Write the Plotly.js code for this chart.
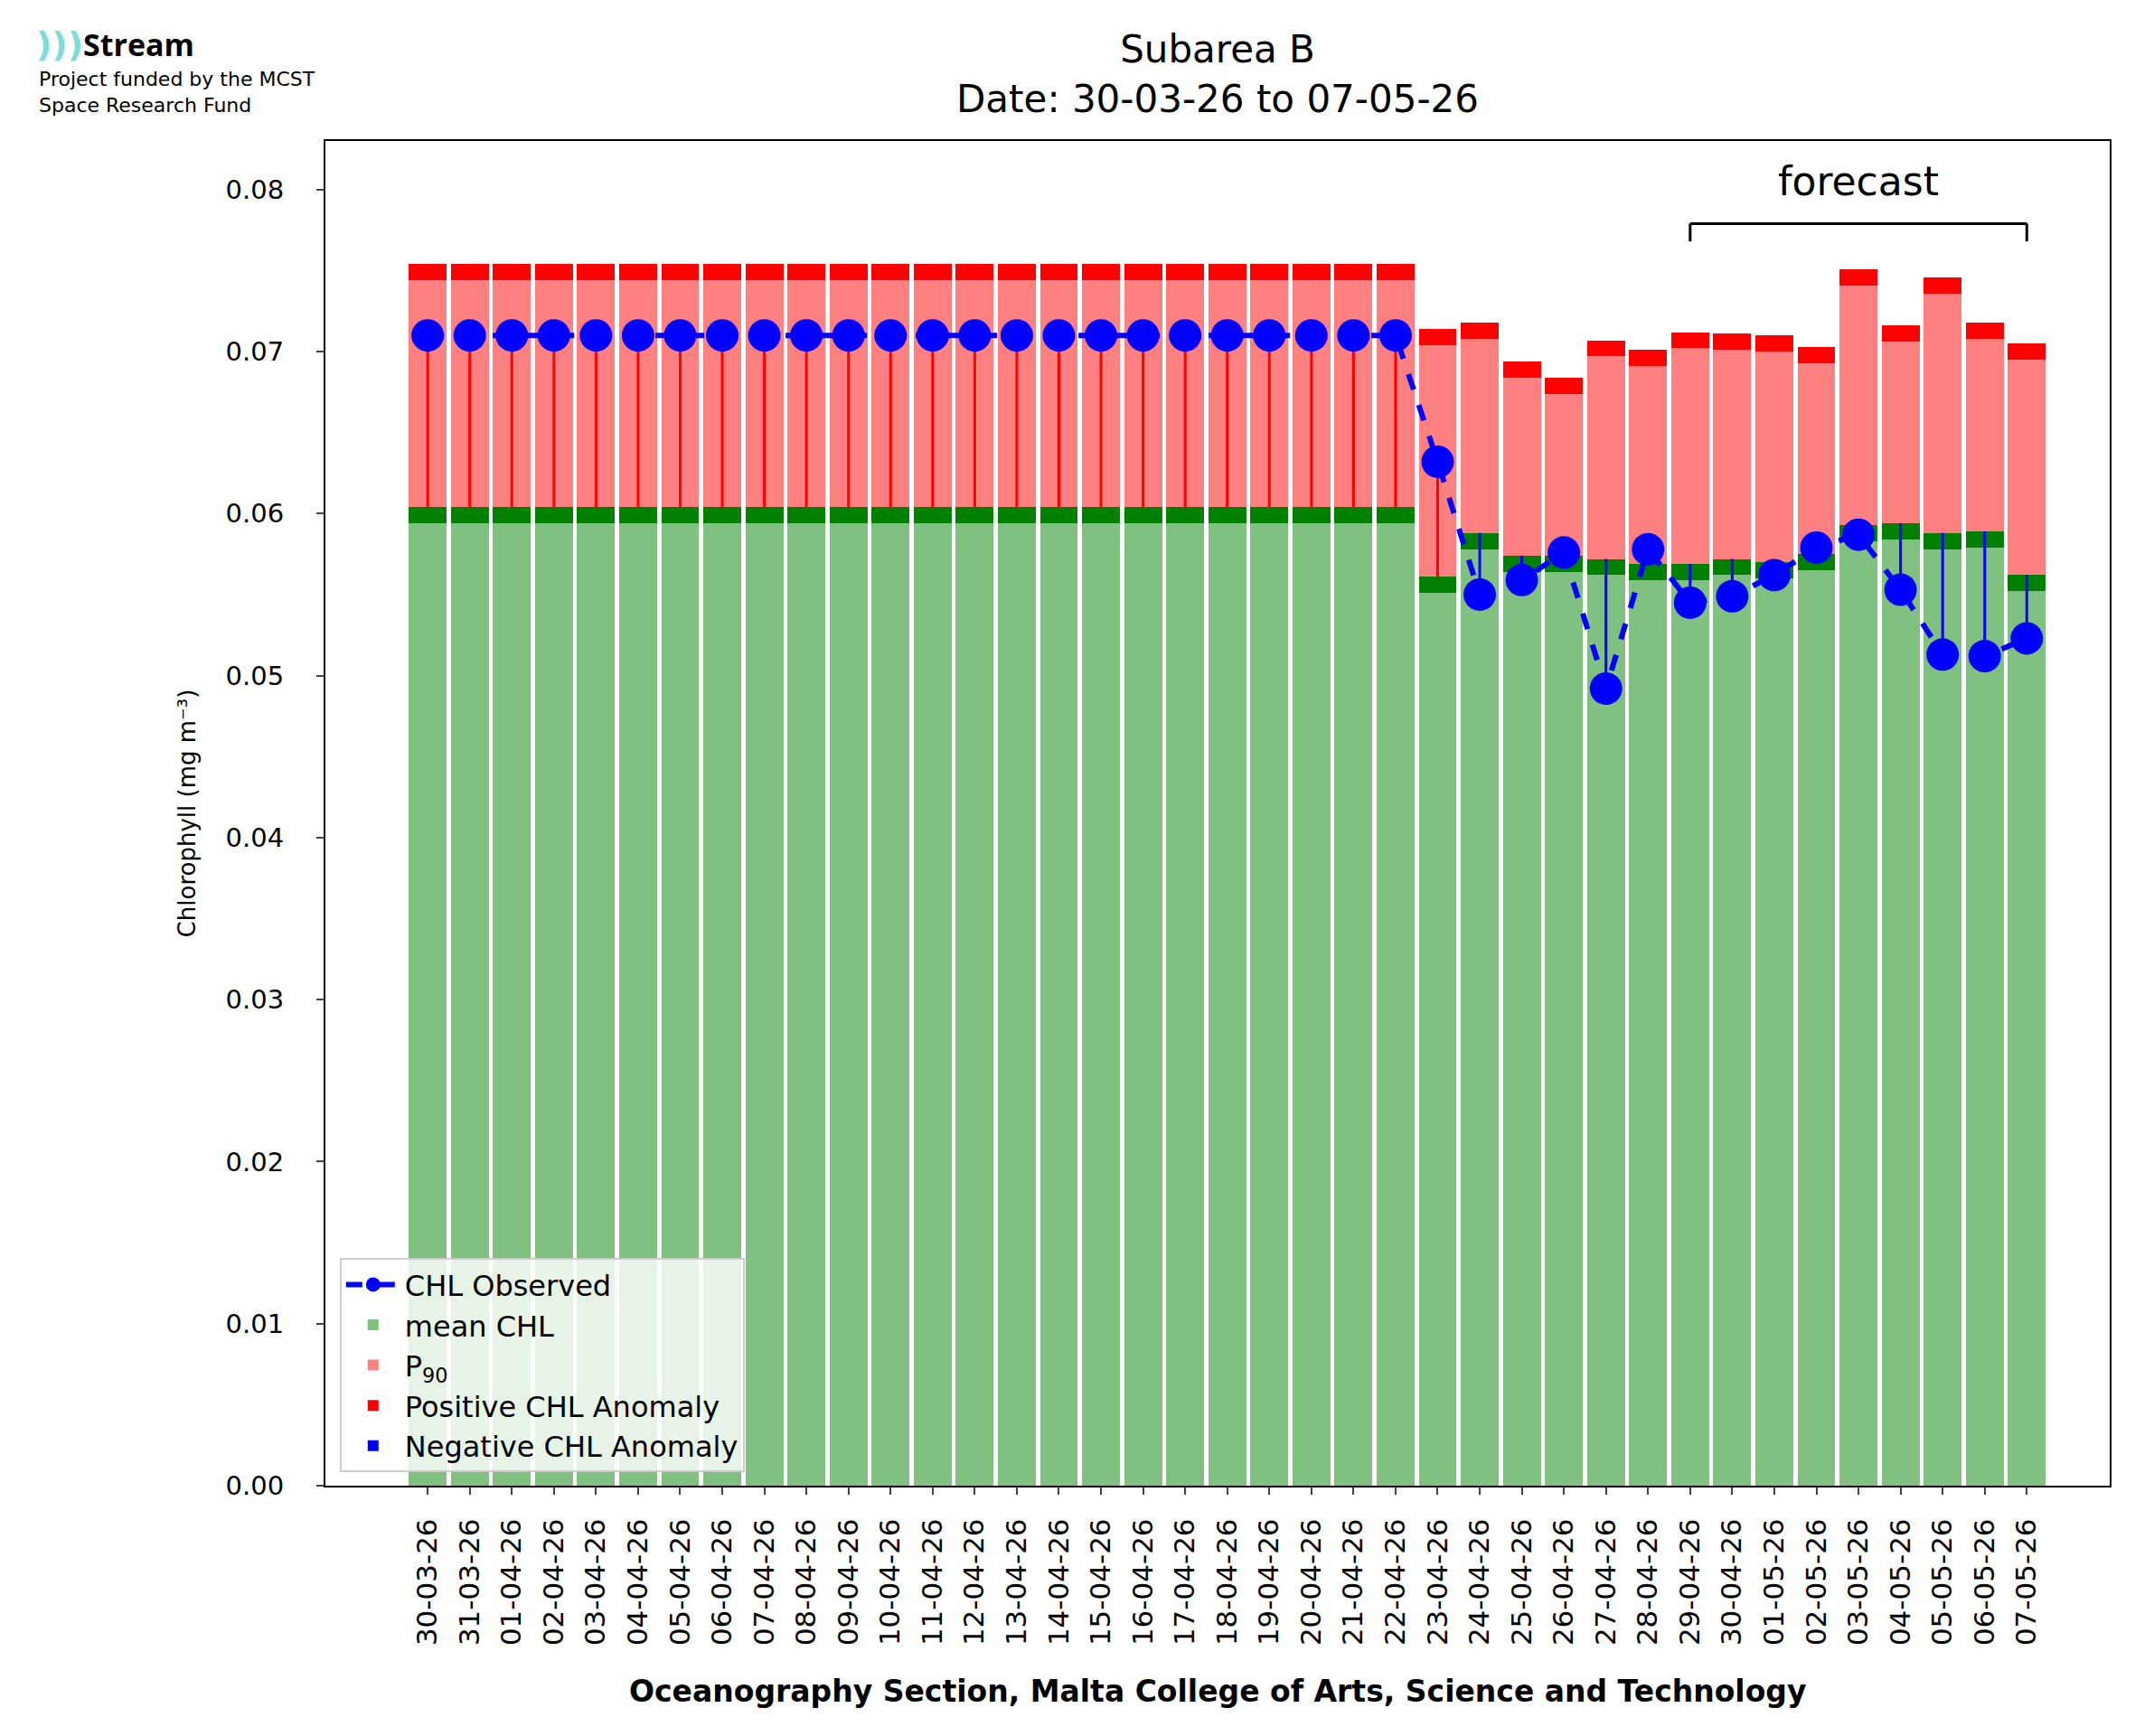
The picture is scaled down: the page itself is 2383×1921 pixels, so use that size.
<!DOCTYPE html>
<html>
<head>
<meta charset="utf-8">
<script src="https://cdn.plot.ly/plotly-3.0.1.min.js"></script>
<style>body{margin:0;background:#fff}#chart{width:2383px;height:1921px}</style>
</head>
<body>
<div id="chart"></div>
<script>
// Dates shown on the x axis
const dates = ['30-03-26','31-03-26','01-04-26','02-04-26','03-04-26','04-04-26','05-04-26','06-04-26','07-04-26',
  '08-04-26','09-04-26','10-04-26','11-04-26','12-04-26','13-04-26','14-04-26','15-04-26','16-04-26','17-04-26',
  '18-04-26','19-04-26','20-04-26','21-04-26','22-04-26','23-04-26','24-04-26','25-04-26','26-04-26','27-04-26',
  '28-04-26','29-04-26','30-04-26','01-05-26','02-05-26','03-05-26','04-05-26','05-05-26','06-05-26','07-05-26'];

// mean CHL (light green top)
const meanChl = [0.0594,0.0594,0.0594,0.0594,0.0594,0.0594,0.0594,0.0594,0.0594,0.0594,0.0594,0.0594,0.0594,
  0.0594,0.0594,0.0594,0.0594,0.0594,0.0594,0.0594,0.0594,0.0594,0.0594,0.0594,
  0.0551,0.0578,0.0564,0.0564,0.0562,0.0559,0.0559,0.0562,0.0560,0.0565,0.0583,0.0584,0.0578,0.0579,0.0552];
// P90 (pink top)
const p90 = [0.0744,0.0744,0.0744,0.0744,0.0744,0.0744,0.0744,0.0744,0.0744,0.0744,0.0744,0.0744,0.0744,
  0.0744,0.0744,0.0744,0.0744,0.0744,0.0744,0.0744,0.0744,0.0744,0.0744,0.0744,
  0.0704,0.0708,0.0684,0.0674,0.0697,0.0691,0.0702,0.0701,0.0700,0.0693,0.0741,0.0706,0.0736,0.0708,0.0695];
// observed CHL
const observed = [0.0710,0.0710,0.0710,0.0710,0.0710,0.0710,0.0710,0.0710,0.0710,0.0710,0.0710,0.0710,0.0710,
  0.0710,0.0710,0.0710,0.0710,0.0710,0.0710,0.0710,0.0710,0.0710,0.0710,0.0710,
  0.0632,0.0550,0.0559,0.0576,0.0492,0.0578,0.0545,0.0549,0.0562,0.0579,0.0587,0.0553,0.0513,0.0512,0.0523];
const band = 0.001;
const forecastStart = '29-04-26', forecastEnd = '07-05-26';

const bandTop = meanChl.map(v => v + band);
const posX = [], posY = [], negX = [], negY = [];
dates.forEach((d, i) => {
  if (observed[i] >= bandTop[i]) { posX.push(d, d, null); posY.push(bandTop[i], observed[i], null); }
  else { negX.push(d, d, null); negY.push(bandTop[i], observed[i], null); }
});

const bw = 0.9;
const traces = [
  {type:'bar', x:dates, y:meanChl, width:bw, marker:{color:'#80c080'}, name:'mean CHL', legendrank:2},
  {type:'bar', x:dates, y:meanChl.map(() => band), width:bw, marker:{color:'#008000'}, showlegend:false},
  {type:'bar', x:dates, y:p90.map((v, i) => v - bandTop[i]), width:bw, marker:{color:'#ff8080'}, name:'P<sub>90</sub>', legendrank:3},
  {type:'bar', x:dates, y:p90.map(() => band), width:bw, marker:{color:'#ff0000'}, name:'Positive CHL Anomaly', legendrank:4},
  {type:'bar', x:dates, y:dates.map(() => 0), width:bw, marker:{color:'#0000ff'}, name:'Negative CHL Anomaly', legendrank:5},
  {type:'scatter', mode:'lines', x:posX, y:posY, line:{color:'#ff0000', width:3}, showlegend:false, hoverinfo:'skip'},
  {type:'scatter', mode:'lines', x:negX, y:negY, line:{color:'#0000ff', width:3}, showlegend:false, hoverinfo:'skip'},
  {type:'scatter', mode:'lines+markers', x:dates, y:observed, name:'CHL Observed', legendrank:1,
    line:{color:'#0000ff', width:6, dash:'dash'}, marker:{color:'#0000ff', size:36}}
];

const font = 'DejaVu Sans';
const layout = {
  width:2383, height:1921,
  paper_bgcolor:'#fff', plot_bgcolor:'#fff',
  font:{family:font, color:'#000', size:27},
  margin:{l:360, r:49, t:156, b:277},
  barmode:'stack', bargap:0.1,
  showlegend:true,
  legend:{x:0.008, y:0.01, xanchor:'left', yanchor:'bottom', bgcolor:'rgba(255,255,255,0.8)', bordercolor:'#ccc', borderwidth:2,
    font:{size:32, family:font}, traceorder:'normal', itemwidth:60},
  xaxis:{type:'category', range:[-2.43, 39.97], tickangle:-90, ticks:'outside', ticklen:8, tickwidth:2, ticklabelstandoff:14,
    showline:true, mirror:true, linecolor:'#000', linewidth:2, showgrid:false, tickfont:{size:31}},
  yaxis:{range:[0, 0.083], dtick:0.01, tickformat:'.2f', ticks:'outside', ticklen:8, tickwidth:2, ticklabelstandoff:30,
    showline:true, mirror:true, linecolor:'#000', linewidth:2, showgrid:false, zeroline:false, tickfont:{size:29},
    title:{text:'Chlorophyll (mg m⁻³)', font:{size:26}, standoff:26}},
  shapes:[
    {type:'line', xref:'x', yref:'y', x0:dates.indexOf(forecastStart), x1:dates.indexOf(forecastEnd), y0:0.0779, y1:0.0779, line:{color:'#000', width:3}},
    {type:'line', xref:'x', yref:'y', x0:dates.indexOf(forecastStart), x1:dates.indexOf(forecastStart), y0:0.0779, y1:0.0768, line:{color:'#000', width:3}},
    {type:'line', xref:'x', yref:'y', x0:dates.indexOf(forecastEnd), x1:dates.indexOf(forecastEnd), y0:0.0779, y1:0.0768, line:{color:'#000', width:3}}
  ],
  annotations:[
    {text:'Subarea B<br>Date: 30-03-26 to 07-05-26', xref:'paper', yref:'paper', x:0.5, y:1.050, yanchor:'middle', showarrow:false, font:{size:42}},
    {text:'<b>Oceanography Section, Malta College of Arts, Science and Technology</b>', xref:'paper', yref:'paper', x:0.5, y:-0.1526,
      yanchor:'middle', showarrow:false, font:{size:33}},
    {text:'forecast', xref:'x', yref:'y', x:(dates.indexOf(forecastStart)+dates.indexOf(forecastEnd))/2, y:0.0790,
      showarrow:false, yanchor:'bottom', font:{size:44}},
    {text:'<b>)))</b>', xref:'paper', yref:'paper', x:-0.163, y:1.072, xanchor:'left', yanchor:'middle', showarrow:false, font:{size:38, color:'#7fdcd8'}},
    {text:'<b>Stream</b>', xref:'paper', yref:'paper', x:-0.137, y:1.072, xanchor:'left', yanchor:'middle', showarrow:false, font:{size:34, family:'Open Sans'}},
    {text:'Project funded by the MCST<br>Space Research Fund', xref:'paper', yref:'paper', x:-0.1616, y:1.056, xanchor:'left', yanchor:'top', align:'left', showarrow:false, font:{size:22}}
  ]
};

Plotly.newPlot('chart', traces, layout, {displayModeBar:false});
</script>
</body>
</html>
